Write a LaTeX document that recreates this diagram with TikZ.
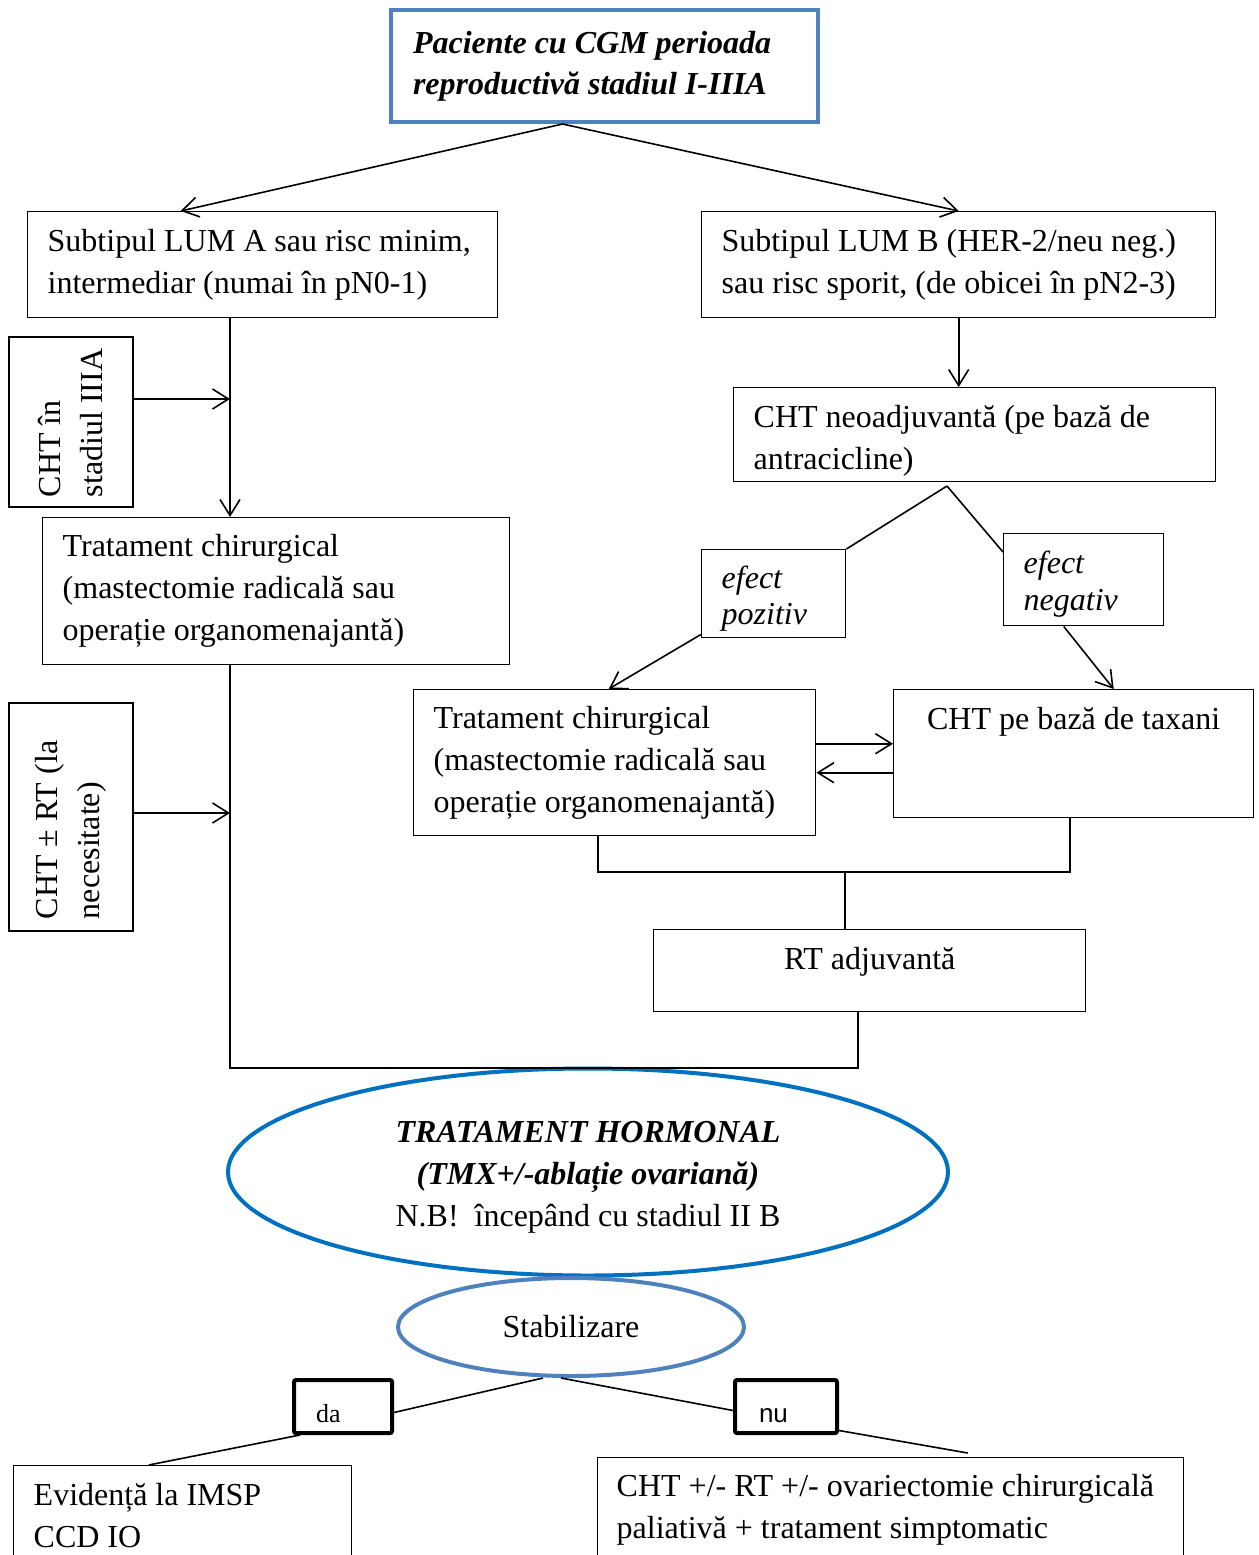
\documentclass[tikz,border=0pt]{standalone}
\usepackage{fontspec}
\setmainfont{Liberation Serif}
\newfontfamily\arialfont{Liberation Sans}
\usetikzlibrary{arrows.meta,shapes.geometric}
\definecolor{FrameBlue}{HTML}{4F81BD}
\definecolor{HormoneBlue}{HTML}{0070C0}

\begin{document}
\begin{tikzpicture}[x=0.5pt, y=-0.5pt, font=\fontsize{16pt}{21pt}\selectfont,
  >={Straight Barb[length=8pt,width=10pt]}, line width=0.8pt,
  box/.style={draw, line width=0.7pt, anchor=north west, align=flush left,
    inner xsep=10pt, inner ysep=0pt},
  sidebox/.style={draw, line width=0.7pt, rotate=90, align=flush left,
    inner xsep=5pt, minimum height=62pt},
  tag/.style={draw, line width=2pt, rounded corners=1pt, anchor=north west,
    align=flush left, text width=27pt, inner ysep=0pt, minimum height=26.5pt,
    text height=21pt, text depth=5.5pt, font=\fontsize{13pt}{15pt}\selectfont},
  oval/.style={ellipse, draw, line width=2pt, align=center, inner sep=0pt}]

  \useasboundingbox (0,0) rectangle (1259,1555);

  \node[box, draw=FrameBlue, line width=2pt, inner xsep=11pt, text width=191.5pt,
    minimum height=56pt, font=\fontsize{16pt}{20.5pt}\selectfont\bfseries\itshape]
    (start) at (389,8) {Paciente cu CGM perioada\\reproductivă stadiul I-IIIA};

  \node[box, text width=215pt, minimum height=53pt] (lumA) at (27,211)
    {Subtipul LUM A sau risc minim,\\intermediar (numai în pN0-1)};
  \node[box, text width=237pt, minimum height=53pt] (lumB) at (701,211)
    {Subtipul LUM B (HER-2/neu neg.)\\sau risc sporit, (de obicei în pN2-3)};

  \node[sidebox, text width=75pt] (chtA) at (71,422) {CHT în\\stadiul IIIA};
  \node[box, text width=213.5pt, minimum height=73.5pt] (surgA) at (42,517)
    {Tratament chirurgical\\(mastectomie radicală sau\\operație organomenajantă)};
  \node[sidebox, inner xsep=6pt, text width=102pt] (chtB) at (71,817)
    {CHT ± RT (la\\necesitate)};

  \node[box, text width=221pt, text height=20pt, text depth=27pt] (neo) at (733,387)
    {CHT neoadjuvantă (pe bază de\\antracicline)};
  \node[box, text width=52pt, text height=19.5pt, text depth=24.5pt,
    font=\fontsize{16pt}{18pt}\selectfont\itshape] (pos) at (701,549) {efect\\pozitiv};
  \node[box, text width=60pt, text height=20pt, text depth=26pt,
    font=\fontsize{16pt}{18.5pt}\selectfont\itshape] (neg) at (1003,533) {efect\\negativ};
  \node[box, text width=181pt, minimum height=73pt] (surgB) at (413,689)
    {Tratament chirurgical\\(mastectomie radicală sau\\operație organomenajantă)};
  \node[box, align=flush center, text width=160pt, inner ysep=3pt, text height=17pt,
    text depth=41pt] (tax) at (893,689) {CHT pe bază de taxani};
  \node[box, align=flush center, text width=196pt, inner ysep=3pt, text height=17pt,
    text depth=18pt] (rt) at (653,929) {RT adjuvantă};

  \node[oval, draw=HormoneBlue, minimum width=360pt, minimum height=103.5pt,
    text height=58pt, text depth=4pt]
    (horm) at (588,1172) {\textbf{\textit{TRATAMENT HORMONAL}}\\
    \textbf{\textit{(TMX+/-ablație ovariană)}}\\N.B!\ \ începând cu stadiul II B};
  \node[oval, draw=FrameBlue, minimum width=173pt, minimum height=49pt]
    (stab) at (571,1327) {Stabilizare};

  \node[tag, inner xsep=11pt] (da) at (292,1378) {da};
  \node[tag, inner xsep=12pt] (nu) at (733,1378) {\arialfont nu};
  \node[box, text width=149pt, minimum height=50pt] (evid) at (13,1465)
    {Evidență la IMSP\\CCD IO};
  \node[box, text width=274pt, minimum height=52pt, inner xsep=9.5pt] (pal) at (597,1457)
    {CHT +/- RT +/- ovariectomie chirurgicală\\paliativă + tratament simptomatic};

  \coordinate (spine) at (230,0);
  \coordinate (merge) at (230,1068);
  \coordinate (bar) at (845,872);
  \coordinate (fork) at (947,486);

  \draw[->] ([xshift=-21pt]start.south) -- ([xshift=-41pt]lumA.north);
  \draw[->] ([xshift=-21pt]start.south) -- (lumB.north);
  \draw[->] (lumA.south -| spine) -- (surgA.north -| spine);
  \draw[->] ([yshift=11.5pt]chtA.south) -- ([yshift=11.5pt]chtA.south -| spine);
  \draw (surgA.south -| spine) -- (merge) -| ([xshift=-6pt]rt.south);
  \draw[->] ([yshift=2pt]chtB.south) -- ([yshift=2pt]chtB.south -| spine);

  \draw[->] (lumB.south) -- (lumB.south |- neo.north);
  \draw (fork) -- (pos.north east);
  \draw (fork) -- ([yshift=-9.5pt]neg.north west);
  \draw[->] ([yshift=2pt]pos.south west) -- ([xshift=-3pt]surgB.north);
  \draw[->] ([xshift=-10pt]neg.south) -- ([xshift=20pt]tax.north);
  \draw[->] ([yshift=9.5pt]surgB.east) -- ([yshift=9.5pt]surgB.east -| tax.west);
  \draw[->] ([yshift=-9.5pt]tax.west) -- ([yshift=-9.5pt]tax.west -| surgB.east);
  \draw ([xshift=-8.5pt]surgB.south) |- (bar) -| ([xshift=-2pt]tax.south);
  \draw (bar) -- (bar |- rt.north);

  \draw ([xshift=-14pt]stab.south) -- ([yshift=-3pt]da.east);
  \draw ([xshift=4pt]da.south west) -- ([xshift=-17pt]evid.north);
  \draw ([xshift=-5pt]stab.south) -- ([yshift=-2pt]nu.west);
  \draw ([yshift=-12pt]nu.east) -- ([xshift=38.5pt,yshift=2pt]pal.north);
\end{tikzpicture}
\end{document}
